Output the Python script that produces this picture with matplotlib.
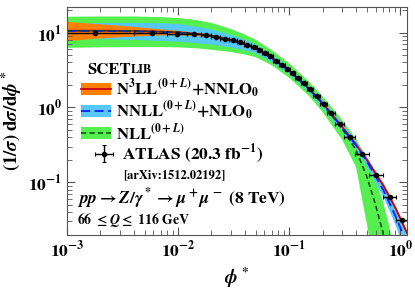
import numpy as np
import matplotlib
matplotlib.use("Agg")
from matplotlib import pyplot as plt
from matplotlib.patches import Patch
from matplotlib.lines import Line2D

plt.rcParams['font.family'] = 'STIXGeneral'
plt.rcParams['font.weight'] = 'bold'
plt.rcParams['mathtext.fontset'] = 'custom'
plt.rcParams['mathtext.rm'] = 'STIXGeneral:bold'
plt.rcParams['mathtext.it'] = 'STIXGeneral:italic:bold'
plt.rcParams['mathtext.bf'] = 'STIXGeneral:bold'

# ATLAS 8 TeV data (bin edges, normalised values)
bin_lo = [0.0, 0.004, 0.008, 0.012, 0.016, 0.020, 0.024, 0.029, 0.034, 0.039,
          0.045, 0.051, 0.057, 0.064, 0.072, 0.081, 0.091, 0.102, 0.114, 0.128,
          0.145, 0.165, 0.189, 0.219, 0.258, 0.312, 0.391, 0.524, 0.695, 0.918]
bin_hi = [0.004, 0.008, 0.012, 0.016, 0.020, 0.024, 0.029, 0.034, 0.039, 0.045,
          0.051, 0.057, 0.064, 0.072, 0.081, 0.091, 0.102, 0.114, 0.128, 0.145,
          0.165, 0.189, 0.219, 0.258, 0.312, 0.391, 0.524, 0.695, 0.918, 1.153]
phi_pts = [0.0018, 0.0058, 0.0098, 0.014, 0.018, 0.022, 0.0265, 0.0315, 0.0365, 0.042,
           0.048, 0.054, 0.0605, 0.068, 0.0765, 0.086, 0.0965, 0.108, 0.121, 0.1365,
           0.155, 0.177, 0.204, 0.2385, 0.285, 0.3515, 0.4575, 0.6095, 0.8065, 1.0355]
atlas = [9.8, 9.8, 9.7, 9.5, 9.2, 8.75, 8.3, 7.85, 7.4, 6.9,
         6.4, 5.9, 5.35, 4.8, 4.2, 3.7, 3.25, 2.85, 2.5, 2.1,
         1.75, 1.42, 1.12, 0.85, 0.60, 0.40, 0.24, 0.125, 0.063, 0.031]

# SCETlib predictions
phi = [0.001, 0.002, 0.004, 0.007, 0.01, 0.015, 0.02, 0.03, 0.04, 0.05, 0.07, 0.1,
       0.15, 0.2, 0.3, 0.4, 0.5, 0.6, 0.7, 0.8, 0.9, 1.0, 1.15]
n3ll = [10.6, 10.6, 10.5, 10.3, 10.1, 9.6, 9.1, 8.0, 7.0, 6.2, 4.6, 3.15,
        1.8, 1.15, 0.55, 0.32, 0.2, 0.13, 0.092, 0.064, 0.046, 0.033, 0.021]
n3ll_lo = [7.8, 8.5, 9.0, 9.3, 9.4, 9.1, 8.7, 7.75, 6.8, 6.0, 4.45, 3.05,
           1.74, 1.11, 0.53, 0.305, 0.19, 0.123, 0.087, 0.060, 0.043, 0.031, 0.0195]
n3ll_hi = [14.1, 13.1, 12.1, 11.2, 10.7, 10.0, 9.4, 8.25, 7.2, 6.4, 4.75, 3.25,
           1.86, 1.19, 0.57, 0.335, 0.21, 0.138, 0.098, 0.068, 0.049, 0.035, 0.0225]
nnll = [10.5, 10.5, 10.4, 10.2, 10.0, 9.5, 9.0, 7.9, 6.95, 6.15, 4.55, 3.1,
        1.78, 1.13, 0.54, 0.31, 0.19, 0.12, 0.08, 0.053, 0.036, 0.025, 0.014]
nnll_lo = [8.4, 8.3, 8.1, 7.85, 7.7, 7.3, 7.0, 6.4, 5.85, 5.35, 4.05, 2.8,
           1.6, 1.0, 0.475, 0.27, 0.162, 0.098, 0.064, 0.041, 0.027, 0.0175, 0.0091]
nnll_hi = [13.4, 13.65, 13.7, 13.55, 13.2, 12.05, 11.1, 9.4, 8.05, 6.95, 5.05, 3.4,
           1.96, 1.24, 0.605, 0.35, 0.219, 0.142, 0.096, 0.065, 0.046, 0.0325, 0.019]
nll = [10.6, 10.6, 10.5, 10.3, 10.1, 9.6, 9.1, 8.0, 7.0, 6.2, 4.6, 3.15,
       1.8, 1.12, 0.52, 0.27, 0.12, 0.05, 0.021, 0.008, 0.003, 0.001, 0.0003]
nll_lo = [6.25, 6.35, 6.4, 6.4, 6.35, 6.15, 5.9, 5.5, 5.1, 4.7, 3.65, 2.5,
          1.44, 0.87, 0.37, 0.16, 0.028, 0.006, 0.002, 0.0007, 0.0003, 0.0001, 0.00003]
nll_hi = [16.3, 16.4, 16.4, 16.1, 15.7, 14.6, 13.5, 11.2, 9.4, 8.05, 5.8, 3.9,
          2.23, 1.41, 0.68, 0.38, 0.21, 0.11, 0.055, 0.025, 0.01, 0.004, 0.001]

c_orange, c_red = '#ff8000', '#c8001e'
c_lblue, c_blue = '#55c8f5', '#0a1eff'
c_lgreen, c_green = '#55f050', '#0a4a0a'

fig = plt.figure(figsize=(4.15, 2.9), dpi=100)
ax = fig.add_axes([0.161, 0.191, 0.820, 0.785])

ax.fill_between(phi, nll_lo, nll_hi, color=c_lgreen, lw=0)
ax.fill_between(phi, nnll_lo, nnll_hi, color=c_lblue, lw=0)
ax.fill_between(phi, n3ll_lo, n3ll_hi, color=c_orange, lw=0)
ax.plot(phi, n3ll, color=c_red, lw=1.3)
ax.plot(phi, nnll, color=c_blue, lw=1.3, dashes=(5, 2.5))
ax.plot(phi, nll, color=c_green, lw=1.1, dashes=(3.5, 2))

x = np.array(phi_pts)
xerr = [x - np.array(bin_lo), np.array(bin_hi) - x]
eb = ax.errorbar(x, atlas, xerr=xerr, yerr=np.array(atlas) * 0.01, fmt='o',
                 color='black', ms=3, lw=1, capsize=1.5, capthick=0.8)

ax.set_xscale('log')
ax.set_yscale('log')
ax.set_xlim(1e-3, 1.153)
ax.set_ylim(0.02, 22)
ax.tick_params(which='both', direction='in', top=True, right=True, colors='#555555',
               labelcolor='black', labelsize=12.5)
ax.tick_params(which='major', length=6)
ax.tick_params(which='minor', length=3.5)
for s in ax.spines.values():
    s.set_color('#555555')
ax.set_xlabel(r'$\phi^*$', fontsize=13.5, labelpad=4)
ax.set_ylabel(r'$(1/\sigma)\;\mathrm{d}\sigma/\mathrm{d}\phi^*$', fontsize=13.5, labelpad=3)

# legend
t1 = ax.text(0.059, 0.723, 'SCET', transform=ax.transAxes, fontsize=12, va='center')
ax.annotate('LIB', xy=(1, 0.08), xycoords=t1, fontsize=9, va='bottom')
handles = [(Patch(color=c_orange, lw=0), Line2D([], [], color=c_red, lw=1.3)),
           (Patch(color=c_lblue, lw=0), Line2D([], [], color=c_blue, lw=1.3, dashes=(5, 2.5))),
           (Patch(color=c_lgreen, lw=0), Line2D([], [], color=c_green, lw=1.1, dashes=(3.5, 2)))]
labels = [r'N$^3$LL$^{(0+L)}$+NNLO$_0$', r'NNLL$^{(0+L)}$+NLO$_0$', r'NLL$^{(0+L)}$']
leg = ax.legend(handles, labels, loc='upper left', bbox_to_anchor=(0.033, 0.705),
                frameon=False, fontsize=12, handlelength=1.8, handleheight=0.72,
                labelspacing=0.0, handletextpad=0.3, borderaxespad=0, borderpad=0.2)
ax.add_artist(leg)
ax.legend([eb], [r'ATLAS (20.3 fb$^{-1}$)'], loc='upper left', bbox_to_anchor=(0.074, 0.42),
          frameon=False, fontsize=12.5, handlelength=1.0, handletextpad=0.5, borderaxespad=0,
          borderpad=0.2)
ax.text(0.165, 0.262, '[arXiv:1512.02192]', transform=ax.transAxes, fontsize=9, va='center')
ax.text(0.03, 0.156, r'$pp \to Z/\gamma^* \to \mu^+\mu^-$ (8 TeV)', transform=ax.transAxes,
        fontsize=12.5, va='center')
ax.text(0.03, 0.064, r'66 $\leq Q \leq$ 116 GeV', transform=ax.transAxes,
        fontsize=10, va='center')

fig.savefig('out.png', dpi=100)
